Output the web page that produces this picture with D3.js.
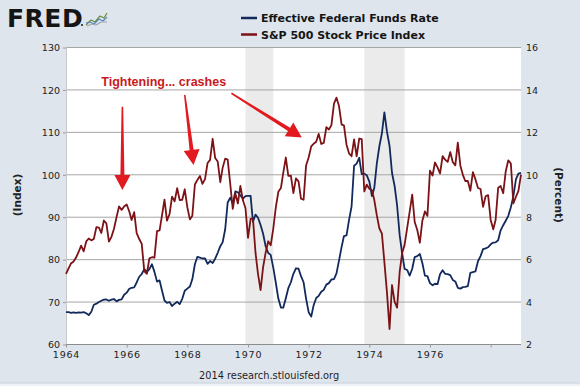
<html>
<head>
<script src="https://cdn.jsdelivr.net/npm/d3@7"></script>
<style>
  body { margin: 0; background: #dee5ed; }
  svg { display: block; }
  .TICK text { font-family: "DejaVu Sans"; font-size: 9.5px; fill: #222; }
</style>
</head>
<body>
<svg id="CANVAS"></svg>
<script>

    var W = 580;
    var H = 386;
    var L = 66, R = 521, T = 47, B = 344;

    // monthly values, Jan 1964 .. Jan 1979
    var START = [1964, 0];
    var SP500 = [
        76.5, 77.80, 78.98, 79.46, 80.37, 81.69, 83.18, 81.83, 84.18, 84.86, 84.42, 84.75,
        87.56, 87.43, 86.16, 89.11, 88.42, 84.12, 85.25, 87.17, 89.96, 92.42, 91.61, 92.43,
        92.88, 91.22, 89.23, 91.06, 86.13, 84.74, 83.60, 77.10, 76.56, 80.20, 80.45, 80.33,
        86.61, 86.78, 90.20, 94.01, 89.08, 90.64, 94.75, 93.64, 96.71, 93.90, 94.00, 96.47,
        92.24, 89.36, 90.20, 97.59, 98.68, 99.58, 97.74, 98.86, 102.67, 103.41, 108.37, 103.86,
        103.01, 98.13, 101.51, 103.69, 103.46, 97.71, 91.83, 95.51, 93.12, 97.24, 93.81, 92.06,
        85.02, 89.50, 89.63, 81.52, 76.55, 72.72, 78.05, 81.52, 84.21, 83.25, 87.20, 92.15,
        95.88, 96.75, 100.31, 103.95, 99.63, 99.70, 95.58, 99.03, 98.34, 94.23, 93.99, 102.09,
        103.94, 106.57, 107.20, 107.67, 109.53, 107.14, 107.39, 111.09, 110.55, 111.58, 116.67, 118.05,
        116.03, 111.68, 111.52, 106.97, 104.95, 104.26, 108.22, 104.25, 108.43, 108.29, 95.96, 97.55,
        96.57, 96.22, 93.98, 90.31, 87.28, 86.00, 79.31, 72.15, 63.54, 73.90, 69.97, 68.56,
        76.98, 81.59, 83.36, 87.30, 91.15, 95.19, 88.75, 86.88, 83.87, 89.04, 91.24, 90.19,
        100.86, 99.71, 102.77, 101.64, 100.18, 104.28, 103.44, 102.91, 105.24, 102.90, 102.10, 107.46,
        102.03, 99.82, 98.42, 98.44, 96.12, 100.48, 98.85, 96.77, 96.53, 92.34, 94.83, 95.10,
        89.25, 87.04, 89.21, 96.83, 97.24, 95.53, 100.68, 103.29, 102.54, 93.15, 94.70, 96.11,
        99.93
    ];
    var FEDFUNDS = [
        3.50, 3.50, 3.47, 3.49, 3.47, 3.49, 3.48, 3.50, 3.45, 3.36, 3.52, 3.85,
        3.90, 3.98, 4.04, 4.09, 4.10, 4.04, 4.09, 4.12, 4.01, 4.08, 4.10, 4.32,
        4.42, 4.60, 4.65, 4.67, 4.90, 5.17, 5.30, 5.53, 5.40, 5.53, 5.76, 5.40,
        4.94, 5.00, 4.53, 4.05, 3.94, 3.98, 3.79, 3.90, 3.99, 3.88, 4.13, 4.51,
        4.61, 4.71, 5.05, 5.76, 6.11, 6.07, 6.03, 6.03, 5.78, 5.91, 5.82, 6.02,
        6.30, 6.61, 6.79, 7.41, 8.67, 8.90, 8.61, 9.19, 9.15, 9.00, 8.85, 8.97,
        8.98, 8.98, 7.76, 8.10, 7.95, 7.61, 7.21, 6.61, 6.29, 6.20, 5.60, 4.90,
        4.14, 3.72, 3.71, 4.16, 4.63, 4.91, 5.31, 5.57, 5.55, 5.20, 4.91, 4.14,
        3.50, 3.29, 3.83, 4.17, 4.27, 4.46, 4.55, 4.80, 4.87, 5.04, 5.06, 5.33,
        5.94, 6.58, 7.09, 7.12, 7.84, 8.49, 10.40, 10.50, 10.78, 10.01, 10.03, 9.95,
        9.65, 8.97, 9.35, 10.51, 11.31, 11.93, 12.92, 12.01, 11.34, 10.06, 9.45, 8.53,
        7.13, 6.24, 5.54, 5.49, 5.22, 5.55, 6.10, 6.14, 6.24, 5.82, 5.22, 5.20,
        4.87, 4.77, 4.84, 4.82, 5.29, 5.48, 5.31, 5.29, 5.25, 5.02, 4.95, 4.65,
        4.61, 4.68, 4.69, 4.73, 5.35, 5.39, 5.42, 5.90, 6.14, 6.47, 6.51, 6.56,
        6.70, 6.78, 6.79, 6.89, 7.36, 7.60, 7.81, 8.04, 8.45, 8.96, 9.76, 10.03,
        10.07
    ];
    var RECESSIONS = [["1969-12-01", "1970-11-01"], ["1973-11-01", "1975-03-01"]];
    var LEFT_TICKS = [60, 70, 80, 90, 100, 110, 120, 130];
    var RIGHT_TICKS = [2, 4, 6, 8, 10, 12, 14, 16];
    var YEAR_TICKS = [1964, 1966, 1968, 1970, 1972, 1974, 1976, 1978];
    var YEAR_LABELS = ["1964", "1966", "1968", "1970", "1972", "1974", "1976", ""];
    var LEGEND = ["Effective Federal Funds Rate", "S&P 500 Stock Price Index"];
    var NOTE = "Tightening... crashes";
    // [date, index] for note text, arrows as tail -> tip
    var NOTE_AT = ["1965-03-01", 120.8];
    var ARROWS = [
        [["1965-11-10", 115.9], ["1965-11-10", 96.3]],
        [["1967-12-01", 118.7], ["1968-03-15", 102.2]],
        [["1969-06-15", 119.1], ["1971-10-10", 108.7]]
    ];

    var BLUE = "#12295c", RED = "#7c1216", ARROW = "#e2191e";

    var parse = d3.timeParse("%Y-%m-%d");
    var dates = SP500.map(function (d, i) { return new Date(START[0], START[1] + i, 1); });

    var x = d3.scaleTime()
        .domain([new Date(1964, 0, 1), new Date(1979, 0, 1)])
        .range([L, R]);
    var yL = d3.scaleLinear().domain([60, 130]).range([B, T]);
    var yR = d3.scaleLinear().domain([2, 16]).range([B, T]);

    var svg = d3.select("#CANVAS").attr("width", W).attr("height", H);

    svg.append("rect").attr("width", W).attr("height", H).attr("fill", "#dee5ed");
    svg.append("rect").attr("y", 383).attr("width", W).attr("height", 3).attr("fill", "#eef1f5");
    svg.append("line").attr("x1", 0).attr("x2", W).attr("y1", 383).attr("y2", 383)
        .attr("stroke", "#c9d1da");

    // plot area
    svg.append("rect").attr("x", L).attr("y", T).attr("width", R - L).attr("height", B - T)
        .attr("fill", "#fff");

    svg.append("g").selectAll("rect").data(RECESSIONS).enter().append("rect")
        .attr("x", function (d) { return x(parse(d[0])); })
        .attr("width", function (d) { return x(parse(d[1])) - x(parse(d[0])); })
        .attr("y", T).attr("height", B - T)
        .attr("fill", "#ebebeb");

    // grid
    svg.append("g").selectAll("line").data(LEFT_TICKS).enter().append("line")
        .attr("x1", L).attr("x2", R)
        .attr("y1", function (d) { return yL(d) + 0.5; })
        .attr("y2", function (d) { return yL(d) + 0.5; })
        .attr("stroke", function (d) { return d == 60 ? "#8c8c8c" : "#a6a6a6"; })
        .attr("stroke-width", 1);
    svg.append("line").attr("x1", L + 0.5).attr("x2", L + 0.5).attr("y1", T).attr("y2", B)
        .attr("stroke", "#c8c8c8");

    // axes
    var gl = svg.append("g").attr("class", "TICK").attr("transform", "translate(" + L + ",0.5)")
        .call(d3.axisLeft(yL).tickValues(LEFT_TICKS).tickSize(3).tickPadding(3));
    var gr = svg.append("g").attr("class", "TICK").attr("transform", "translate(" + R + ",0.5)")
        .call(d3.axisRight(yR).tickValues(RIGHT_TICKS).tickSize(0).tickPadding(5));
    var gx = svg.append("g").attr("class", "TICK").attr("transform", "translate(0," + (B + 0.5) + ")")
        .call(d3.axisBottom(x)
            .tickValues(YEAR_TICKS.map(function (y) { return new Date(y, 0, 1); }))
            .tickFormat(function (d, i) { return YEAR_LABELS[i]; })
            .tickSize(3).tickPadding(2));
    [gl, gr, gx].forEach(function (g) {
        g.select(".domain").remove();
        g.selectAll(".tick line").attr("stroke", "#9a9a9a");
    });
    gx.selectAll("text").attr("letter-spacing", "0.8px").attr("dy", "0.85em");
    gl.selectAll("text").attr("dy", "0.35em");
    gr.selectAll("text").attr("dy", "0.35em");

    // series
    var lineL = d3.line().x(function (d, i) { return x(dates[i]); }).y(function (d) { return yL(d); });
    var lineR = d3.line().x(function (d, i) { return x(dates[i]); }).y(function (d) { return yR(d); });

    svg.append("path").datum(FEDFUNDS).attr("d", lineR)
        .attr("fill", "none").attr("stroke", BLUE).attr("stroke-width", 1.8)
        .attr("stroke-linejoin", "round");
    svg.append("path").datum(SP500).attr("d", lineL)
        .attr("fill", "none").attr("stroke", RED).attr("stroke-width", 1.8)
        .attr("stroke-linejoin", "round");

    // axis titles
    svg.append("text").attr("transform", "translate(21,195) rotate(-90)")
        .attr("text-anchor", "middle")
        .style("font-family", "DejaVu Sans").style("font-weight", "bold").style("font-size", "10.5px")
        .attr("fill", "#222").text("(Index)");
    svg.append("text").attr("transform", "translate(555,195) rotate(90)")
        .attr("text-anchor", "middle")
        .style("font-family", "DejaVu Sans").style("font-weight", "bold").style("font-size", "10.5px")
        .attr("fill", "#222").text("(Percent)");

    // legend
    var lg = svg.append("g").selectAll("g").data(LEGEND).enter().append("g")
        .attr("transform", function (d, i) { return "translate(241," + (22 + i * 16.5) + ")"; });
    lg.append("line").attr("x1", 0).attr("x2", 16).attr("y1", -4).attr("y2", -4)
        .attr("stroke", function (d, i) { return i ? RED : BLUE; }).attr("stroke-width", 2.5);
    lg.append("text").attr("x", 20)
        .style("font-family", "DejaVu Sans").style("font-weight", "bold").style("font-size", "11px")
        .attr("fill", "#151515").text(function (d) { return d; });

    // FRED logo
    svg.append("text").attr("x", 7).attr("y", 27)
        .style("font-family", "DejaVu Sans").style("font-weight", "bold").style("font-size", "25px")
        .attr("fill", "#151515").attr("letter-spacing", "0.5px").text("FRED");
    svg.append("circle").attr("cx", 82).attr("cy", 25).attr("r", 1).attr("fill", "#151515");
    var icon = svg.append("g").attr("transform", "translate(86,12)").attr("fill", "none")
        .attr("stroke-width", 1.2).attr("stroke-linejoin", "round");
    icon.append("path").attr("d", "M0,13 L5,8 L9,10 L14,4 L18,6 L21,1").attr("stroke", "#6b8e3a");
    icon.append("path").attr("d", "M0,11 L4,10 L8,12 L13,7 L17,9 L21,5").attr("stroke", "#5a86b8");
    icon.append("path").attr("d", "M1,14 L6,12 L10,13 L15,10 L21,10").attr("stroke", "#9aa6b0");

    // footer
    svg.append("text").attr("x", 199).attr("y", 379)
        .style("font-family", "DejaVu Sans").style("font-size", "9.8px")
        .attr("fill", "#1e1e1e").text("2014 research.stlouisfed.org");

    // annotation
    svg.append("text").attr("x", x(parse(NOTE_AT[0]))).attr("y", yL(NOTE_AT[1]))
        .style("font-family", "Liberation Sans").style("font-weight", "bold").style("font-size", "12.5px")
        .attr("fill", "#c8191e").text(NOTE);

    function arrowPath(x0, y0, x1, y1) {
        var dx = x1 - x0, dy = y1 - y0, len = Math.sqrt(dx * dx + dy * dy);
        var ux = dx / len, uy = dy / len, px = -uy, py = ux;
        var hl = 15, hw = 8, w0 = 0.8, w1 = 2;
        var bx = x1 - ux * hl, by = y1 - uy * hl;
        var pts = [
            [x0 + px * w0, y0 + py * w0],
            [bx + px * w1, by + py * w1],
            [bx + px * hw, by + py * hw],
            [x1, y1],
            [bx - px * hw, by - py * hw],
            [bx - px * w1, by - py * w1],
            [x0 - px * w0, y0 - py * w0]
        ];
        return "M" + pts.map(function (p) { return p[0].toFixed(1) + "," + p[1].toFixed(1); }).join("L") + "Z";
    }

    svg.append("g").selectAll("path").data(ARROWS).enter().append("path")
        .attr("d", function (a) {
            return arrowPath(x(parse(a[0][0])), yL(a[0][1]), x(parse(a[1][0])), yL(a[1][1]));
        })
        .attr("fill", ARROW);

</script>
</body>
</html>
